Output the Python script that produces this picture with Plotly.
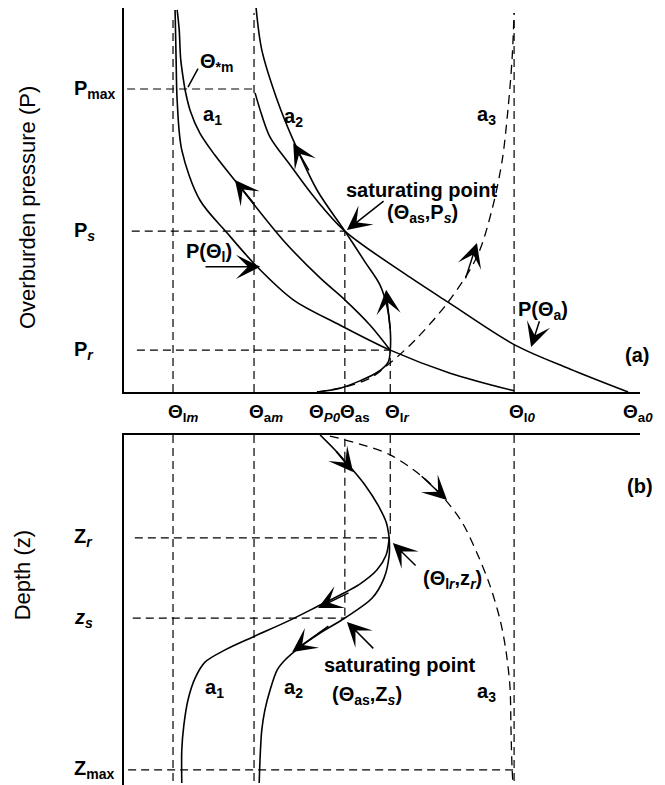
import plotly.graph_objects as go

FONT = "Liberation Sans, Arial, Helvetica, sans-serif"

# ---- characteristic values (schematic units: Θ 0-100, P 0-100, z 0-100) ----
theta_lm, theta_am, theta_P0, theta_as, theta_lr, theta_l0, theta_a0 = 9.5, 25.2, 37.4, 42.8, 51.6, 75.6, 97.7
P_max, P_s, P_r = 78.9, 41.9, 10.9
z_r, z_s, z_max = 29.4, 52.3, 95.7

theta_tick_vals = [theta_lm, theta_am, theta_P0, theta_as, theta_lr, theta_l0, theta_a0]
theta_tick_text = ["Θ<sub>l<i>m</i></sub>", "Θ<sub>a<i>m</i></sub>", "Θ<sub><i>P0</i></sub>", "Θ<sub>as</sub>",
                   "Θ<sub>l<i>r</i></sub>", "Θ<sub>l<i>0</i></sub>", "Θ<sub>a<i>0</i></sub>"]
P_tick_vals = [P_max, P_s, P_r]
P_tick_text = ["P<sub>max</sub>", "P<sub><i>s</i></sub>", "P<sub><i>r</i></sub>"]
z_tick_vals = [z_r, z_s, z_max]
z_tick_text = ["Z<sub><i>r</i></sub>", "<i>z<sub>s</sub></i>", "Z<sub>max</sub>"]

# ---- panel (a): Θ - P curves ----
Pl_theta = [9.9, 10.1, 10.3, 11.2, 14.7, 20.0, 25.8, 32.8, 41.9, 51.6, 63.2, 75.6]
Pl_P     = [99.5, 86.5, 76.0, 63.0, 50.0, 41.4, 32.6, 24.0, 17.4, 10.9, 4.9, 0.3]

a1_low_theta = [51.6, 47.7, 42.8, 38.0, 30.8, 22.5, 17.6, 14.7, 12.8, 11.8]
a1_low_P     = [10.9, 17.4, 24.0, 29.7, 39.6, 53.4, 61.7, 67.4, 73.4, 78.9]
a1_up_theta  = [11.8, 11.0, 10.7, 10.3]
a1_up_P      = [78.9, 86.5, 94.3, 99.5]

a2_theta = [37.4, 41.9, 45.7, 49.2, 51.2, 51.6, 51.6, 51.0, 49.6, 46.7, 42.8, 37.4, 32.8, 29.7, 26.7, 25.6]
a2_P     = [0.0, 1.0, 2.9, 5.2, 7.8, 10.9, 16.1, 22.1, 27.9, 33.9, 41.9, 52.6, 65.6, 76.0, 89.1, 100.0]

Pa_theta = [25.4, 26.7, 28.3, 32.2, 37.0, 42.8, 55.4, 62.8, 75.8, 86.4, 97.7]
Pa_P     = [77.9, 72.1, 66.4, 59.1, 50.5, 41.9, 29.9, 23.4, 12.2, 6.0, 0.0]

a3_theta = [37.4, 42.8, 47.7, 51.6, 56.4, 62.8, 68.4, 71.3, 73.3, 74.4, 75.2, 75.6]
a3_P     = [0.0, 1.3, 3.6, 7.6, 13.5, 23.4, 35.2, 47.4, 60.4, 73.4, 86.5, 98.7]

# ---- panel (b): Θ - z curves ----
b0_theta = [38.0, 40.9, 43.8, 46.7, 49.2, 50.8, 51.4]
b0_z     = [0.0, 4.3, 9.1, 14.3, 20.0, 24.9, 29.4]

b1_theta = [51.4, 50.8, 49.0, 45.7, 41.9, 38.0, 32.2, 25.0, 19.6, 15.7, 13.8, 12.4, 11.6, 11.2, 11.2]
b1_z     = [29.4, 34.3, 38.6, 42.6, 45.7, 48.6, 52.9, 57.7, 61.4, 64.9, 69.4, 75.7, 82.9, 90.0, 99.4]

b2_theta = [51.4, 51.4, 50.4, 48.1, 42.8, 38.0, 34.1, 31.2, 29.7, 28.3, 27.3, 26.7, 26.4, 26.2]
b2_z     = [29.4, 34.3, 40.9, 46.6, 52.3, 56.6, 60.6, 64.3, 67.1, 72.9, 78.6, 84.3, 91.4, 99.4]

b3_theta = [39.9, 45.7, 51.6, 57.4, 61.8, 65.5, 68.4, 70.9, 72.9, 74.0, 74.8, 75.0, 75.2, 75.4]
b3_z     = [0.3, 2.6, 5.7, 11.4, 17.7, 24.9, 33.7, 42.9, 52.9, 61.4, 72.0, 84.3, 94.9, 100.0]

# ---- arrows (tip, tail) ----
arrows_a = [((32.8, 64.8), (36.0, 57.3)), ((21.5, 55.2), (25.4, 48.7)), ((26.4, 32.6), (15.5, 32.6)),
            ((50.8, 26.6), (51.6, 16.1)), ((43.2, 42.2), (50.6, 50.0)), ((68.4, 38.8), (66.1, 29.2)),
            ((78.9, 11.7), (80.6, 18.8))]
leader_a = ((12.4, 79.4), (14.5, 84.6))
arrows_b = [((44.4, 10.6), (40.9, 4.3)), ((37.6, 49.4), (43.8, 44.9)), ((32.6, 62.0), (39.9, 54.3)),
            ((62.6, 18.6), (57.4, 11.4)), ((52.1, 30.9), (56.8, 37.7)), ((43.2, 53.4), (48.6, 61.4))]

# ---- text labels ----
labels_a = [("a<sub>1</sub>", 17.2, 72.1), ("a<sub>2</sub>", 32.8, 71.6), ("a<sub>3</sub>", 70.3, 72.1),
            ("Θ<sub>*m</sub>", 18.0, 85.9), ("P(Θ<sub>l</sub>)", 16.5, 36.2),
            ("saturating point", 57.6, 52.6), ("(Θ<sub>as</sub>,P<sub><i>s</i></sub>)", 57.9, 46.6),
            ("P(Θ<sub>a</sub>)", 81.2, 21.1), ("(a)", 99.4, 9.6)]
labels_b = [("(b)", 100.0, 14.6), ("(Θ<sub>l<i>r</i></sub>,z<sub><i>r</i></sub>)", 63.6, 41.4),
            ("saturating point", 53.3, 65.7), ("(Θ<sub>as</sub>,Z<sub><i>s</i></sub>)", 47.1, 74.3),
            ("a<sub>3</sub>", 70.3, 73.7), ("a<sub>1</sub>", 17.6, 72.3), ("a<sub>2</sub>", 32.8, 72.3)]

fig = go.Figure()

solid = dict(color="black", width=1.6, shape="spline", smoothing=0.9)
guide = dict(color="black", width=1.2, dash="8px,5px")
dashc = dict(color="black", width=1.3, dash="9px,6px", shape="spline", smoothing=0.9)


def line(x, y, style, xa, ya):
    fig.add_trace(go.Scatter(x=x, y=y, mode="lines", line=style, xaxis=xa, yaxis=ya,
                             hoverinfo="skip", showlegend=False))


# guide lines panel (a)
line([theta_lm, theta_lm], [0, 98.0], guide, "x", "y")
line([theta_am, theta_am], [0, 98.7], guide, "x", "y")
line([theta_as, theta_as], [0, P_s], guide, "x", "y")
line([theta_lr, theta_lr], [0, P_r], guide, "x", "y")
line([theta_l0, theta_l0], [0, 98.7], guide, "x", "y")
line([0.6, theta_am], [P_max, P_max], guide, "x", "y")
line([1.5, theta_as], [P_s, P_s], guide, "x", "y")
line([2.5, theta_lr], [P_r, P_r], guide, "x", "y")

# guide lines panel (b)
line([theta_lm, theta_lm], [0, 100], guide, "x2", "y2")
line([theta_am, theta_am], [0, 100], guide, "x2", "y2")
line([theta_as, theta_as], [1.1, z_s], guide, "x2", "y2")
line([theta_lr, theta_lr], [0, z_r], guide, "x2", "y2")
line([theta_l0, theta_l0], [0, 100], guide, "x2", "y2")
line([2.1, theta_lr], [z_r, z_r], guide, "x2", "y2")
line([1.7, theta_as], [z_s, z_s], guide, "x2", "y2")
line([0.8, theta_l0], [z_max, z_max], guide, "x2", "y2")

# curves panel (a)
line(Pl_theta, Pl_P, solid, "x", "y")
line(a1_low_theta, a1_low_P, solid, "x", "y")
line(a1_up_theta, a1_up_P, solid, "x", "y")
line(a2_theta, a2_P, solid, "x", "y")
line(Pa_theta, Pa_P, solid, "x", "y")
line(a3_theta, a3_P, dashc, "x", "y")

# curves panel (b)
line(b0_theta, b0_z, solid, "x2", "y2")
line(b1_theta, b1_z, solid, "x2", "y2")
line(b2_theta, b2_z, solid, "x2", "y2")
line(b3_theta, b3_z, dashc, "x2", "y2")


def arrow(tip, tail, xa, ya, head=3):
    fig.add_annotation(x=tip[0], y=tip[1], ax=tail[0], ay=tail[1], xref=xa, yref=ya,
                       axref=xa, ayref=ya, text="", showarrow=True, arrowhead=head,
                       arrowsize=2.7, arrowwidth=1.5, arrowcolor="black", standoff=0)


for tip, tail in arrows_a:
    arrow(tip, tail, "x", "y")
arrow(leader_a[0], leader_a[1], "x", "y", head=0)
for tip, tail in arrows_b:
    arrow(tip, tail, "x2", "y2")

tfont = dict(family=FONT, size=20, color="black", weight="bold")
for t, x, y in labels_a:
    fig.add_annotation(x=x, y=y, xref="x", yref="y", text=t, showarrow=False, font=tfont)
for t, x, y in labels_b:
    fig.add_annotation(x=x, y=y, xref="x2", yref="y2", text=t, showarrow=False, font=tfont)

# tick-like labels
for v, t in zip(P_tick_vals, P_tick_text):
    fig.add_annotation(x=-0.10, y=v, xref="paper", yref="y", text=t, showarrow=False,
                       xanchor="left", yanchor="middle", font=tfont)
for v, t in zip(z_tick_vals, z_tick_text):
    fig.add_annotation(x=-0.10, y=v, xref="paper", yref="y2", text=t, showarrow=False,
                       xanchor="left", yanchor="middle", font=tfont)
theta_font = dict(family=FONT, size=19, color="black", weight="bold")
for i, (v, t) in enumerate(zip(theta_tick_vals, theta_tick_text)):
    fig.add_annotation(x=v, y=0.4788, xref="x", yref="paper", text=t, showarrow=False,
                       xanchor="left", xshift=-10 if i == 2 else -7, yanchor="middle", font=theta_font)

# axis titles
title_font = dict(family=FONT, size=22, color="black")
fig.add_annotation(x=-0.186, y=0.7426, xref="paper", yref="paper", text="Overburden pressure (P)",
                   textangle=-90, showarrow=False, xanchor="center", yanchor="middle", font=title_font)
fig.add_annotation(x=-0.195, y=0.2703, xref="paper", yref="paper", text="Depth (z)",
                   textangle=-90, showarrow=False, xanchor="center", yanchor="middle", font=title_font)

ax_common = dict(showgrid=False, zeroline=False, showticklabels=False, ticks="",
                 showline=True, linecolor="black", linewidth=2)
fig.update_layout(
    width=665, height=785,
    margin=dict(l=116, r=33, t=0, b=8),
    paper_bgcolor="white", plot_bgcolor="white",
    font=dict(family=FONT, size=20, color="black"),
    showlegend=False,
    xaxis=dict(domain=[0, 1], range=[0, 100], anchor="y", **ax_common),
    yaxis=dict(domain=[0.5058, 1], range=[0, 100], anchor="x", **ax_common),
    xaxis2=dict(domain=[0, 1], range=[0, 100], anchor="y2", side="top", **ax_common),
    yaxis2=dict(domain=[0, 0.4505], range=[100, 0], anchor="x2", **ax_common),
)

fig.write_html("out.html")
